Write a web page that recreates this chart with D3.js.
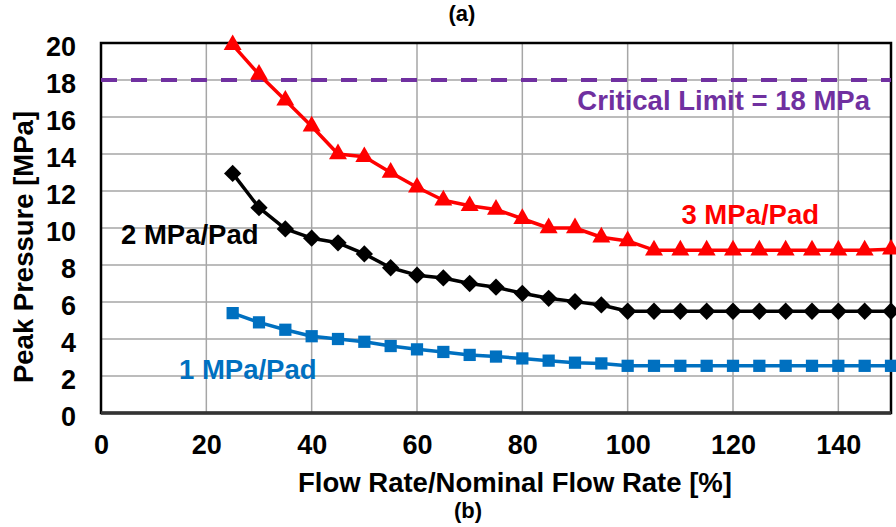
<!DOCTYPE html>
<html>
<head>
<meta charset="utf-8">
<script src="https://cdn.jsdelivr.net/npm/d3@7"></script>
<style>
  html, body { margin: 0; padding: 0; background: #fff; }
  svg { display: block; }
  text { font-family: "Liberation Sans", Arial, Helvetica, sans-serif; font-weight: bold; }
</style>
</head>
<body>
<svg id="chart" width="896" height="527"></svg>
<script>
const flowRate = [25,30,35,40,45,50,55,60,65,70,75,80,85,90,95,100,105,110,115,120,125,130,135,140,145,150];
const pad3 = [19.9,18.3,16.9,15.5,14.0,13.85,13.0,12.2,11.5,11.2,11.0,10.5,10.0,10.0,9.5,9.3,8.8,8.8,8.8,8.8,8.8,8.8,8.8,8.8,8.8,8.85];
const pad2 = [12.95,11.1,9.95,9.45,9.2,8.6,7.85,7.45,7.3,7.0,6.8,6.47,6.2,6.02,5.84,5.5,5.5,5.5,5.5,5.5,5.5,5.5,5.5,5.5,5.5,5.5];
const pad1 = [5.4,4.9,4.5,4.15,4.0,3.85,3.62,3.44,3.3,3.14,3.05,2.95,2.83,2.72,2.68,2.55,2.55,2.55,2.55,2.55,2.55,2.55,2.55,2.55,2.55,2.55];
const xTicks = [0,20,40,60,80,100,120,140];
const yTicks = [0,2,4,6,8,10,12,14,16,18,20];
const criticalLimit = 18;
const seriesNames = ["3 MPa/Pad","2 MPa/Pad","1 MPa/Pad"];
const xTitle = "Flow Rate/Nominal Flow Rate [%]";
const yTitle = "Peak Pressure [MPa]";
const limitLabel = "Critical Limit = 18 MPa";

const svg = d3.select("#chart");
const L = 101, R = 891, T = 43, B = 413;
const FS = 27.5;
const x = d3.scaleLinear().domain([0,150]).range([L,R]);
const y = d3.scaleLinear().domain([0,20]).range([B,T]);

// grid
svg.append("g").selectAll("line").data(xTicks.filter(d => d>0)).join("line")
  .attr("x1", d=>x(d)).attr("x2", d=>x(d)).attr("y1", T).attr("y2", B)
  .attr("stroke", "#a6a6a6").attr("stroke-width", 1.5);
svg.append("g").selectAll("line").data(yTicks.filter(d => d>0 && d<20)).join("line")
  .attr("x1", L).attr("x2", R).attr("y1", d=>y(d)).attr("y2", d=>y(d))
  .attr("stroke", "#a6a6a6").attr("stroke-width", 1.5);

// frame
svg.append("rect").attr("x", L).attr("y", T).attr("width", R-L).attr("height", B-T)
  .attr("fill", "none").attr("stroke", "#000").attr("stroke-width", 2.5);
svg.append("line").attr("x1", L).attr("x2", R).attr("y1", B).attr("y2", B)
  .attr("stroke", "#333").attr("stroke-width", 3.5);

// axes labels via d3 axes
const xAxis = svg.append("g").attr("transform", `translate(0,${B})`)
  .call(d3.axisBottom(x).tickValues(xTicks).tickSize(0).tickPadding(22));
xAxis.select(".domain").remove();
xAxis.selectAll("text").attr("font-size", 27).attr("fill", "#000")
  .style("font-family", '"Liberation Sans", Arial, sans-serif').style("font-weight", "bold");

const yAxis = svg.append("g").attr("transform", `translate(${L},0)`)
  .call(d3.axisLeft(y).tickValues(yTicks).tickSize(0).tickPadding(25));
yAxis.select(".domain").remove();
yAxis.selectAll("text").attr("font-size", 27).attr("fill", "#000").attr("dy", "0.45em")
  .style("font-family", '"Liberation Sans", Arial, sans-serif').style("font-weight", "bold");

// critical limit
svg.append("line").attr("x1", L).attr("x2", R).attr("y1", y(criticalLimit)).attr("y2", y(criticalLimit))
  .attr("stroke", "#7030a0").attr("stroke-width", 4).attr("stroke-dasharray", "16,14");
svg.append("text").attr("x", 870).attr("y", 110).attr("text-anchor", "end")
  .attr("font-size", FS).attr("fill", "#7030a0").text(limitLabel);

const line = d3.line().x((d,i)=>x(flowRate[i])).y(d=>y(d));

function drawSeries(vals, color, sym, size, rot) {
  svg.append("path").datum(vals).attr("d", line)
    .attr("fill", "none").attr("stroke", color).attr("stroke-width", 3.5).attr("stroke-linejoin", "round");
  svg.append("g").selectAll("path").data(vals).join("path")
    .attr("transform", (d,i)=>`translate(${x(flowRate[i])},${y(d)}) rotate(${rot})`)
    .attr("d", d3.symbol().type(sym).size(size))
    .attr("fill", color);
}
drawSeries(pad1, "#0070c0", d3.symbolSquare, 150, 0);
drawSeries(pad2, "#000000", d3.symbolSquare, 150, 45);
drawSeries(pad3, "#ff0000", d3.symbolTriangle, 140, 0);

// series labels
svg.append("text").attr("x", 819).attr("y", 224).attr("text-anchor", "end")
  .attr("font-size", FS).attr("fill", "#ff0000").text(seriesNames[0]);
svg.append("text").attr("x", 121).attr("y", 244)
  .attr("font-size", FS).attr("fill", "#000").text(seriesNames[1]);
svg.append("text").attr("x", 179).attr("y", 379)
  .attr("font-size", FS).attr("fill", "#0070c0").text(seriesNames[2]);

// axis titles
svg.append("text").attr("x", 515).attr("y", 492).attr("text-anchor", "middle")
  .attr("font-size", FS).attr("fill", "#000").text(xTitle);
svg.append("text").attr("transform", "translate(33,247) rotate(-90)").attr("text-anchor", "middle")
  .attr("font-size", FS).attr("fill", "#000").text(yTitle);

// panel letters
svg.append("text").attr("x", 462).attr("y", 21).attr("text-anchor", "middle")
  .attr("font-size", 22).attr("fill", "#000").text("(a)");
svg.append("text").attr("x", 468).attr("y", 518).attr("text-anchor", "middle")
  .attr("font-size", 22).attr("fill", "#000").text("(b)");
</script>
</body>
</html>
